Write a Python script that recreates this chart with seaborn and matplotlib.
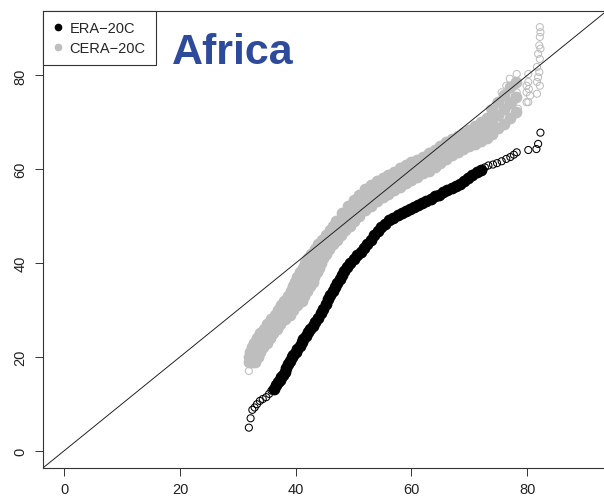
import numpy as np
import pandas as pd
import matplotlib.pyplot as plt
import seaborn as sns
from matplotlib.lines import Line2D

# quantiles (ERA-20C = black, CERA-20C = grey)
era_x = [36.2,36.6,37.0,37.3,37.5,37.8,38.1,38.4,38.7,39.0,39.3,39.6,40.0,40.3,40.7,41.0,41.3,41.7,42.1,42.5,
         43.0,43.4,43.9,44.3,44.7,45.2,45.6,46.0,46.4,46.8,47.2,47.6,48.0,48.4,48.9,49.4,50.0,50.6,51.2,51.8,
         52.4,53.0,53.6,54.2,54.8,55.5,56.2,56.9,57.6,58.3,59.0,59.7,60.4,61.1,61.8,62.6,63.3,64.0,64.8,65.5,
         66.2,67.0,67.7,68.4,69.1,69.8,70.5,71.3,72.0]
era_y = [13.2,13.9,14.6,15.1,15.6,16.2,16.8,17.6,18.5,19.2,19.9,20.4,21.0,21.7,22.4,23.1,23.8,24.5,25.2,25.9,
         26.6,27.4,28.3,29.3,30.2,31.3,32.3,33.2,34.0,34.8,35.7,36.6,37.5,38.3,39.2,40.1,40.9,41.7,42.4,43.1,
         44.0,45.0,46.0,46.8,47.6,48.4,49.1,49.7,50.2,50.6,51.1,51.5,51.9,52.4,52.8,53.3,53.7,54.2,54.6,55.1,
         55.5,56.0,56.5,56.9,57.5,58.1,58.7,59.4,59.9]

# single circles at both ends of ERA-20C
era_tail_x = [31.9,32.2,32.5,32.9,33.3,33.8,34.3,34.9,35.4,35.8,
              72.7,73.3,74.1,74.8,75.6,76.4,77.1,77.7,78.2,80.2,81.6,81.9,82.3]
era_tail_y = [4.9,6.9,8.7,9.2,9.9,10.6,11.0,11.4,12.1,12.8,
              60.4,60.8,61.0,61.3,61.7,62.2,62.6,63.1,63.6,64.1,64.3,65.4,67.8]

# CERA-20C is a wide band: three rows across it (upper edge, middle, lower edge)
cera_steep_y = [19,20,21,22,23,24,25,26,27,28,29,30,31,32,33,34,35,36,37,38,39,40,41,42,43,44,45,46,47,48]
cera_top_steep_x = [31.9,32.0,32.1,32.4,32.8,33.3,33.9,34.5,35.1,35.8,36.4,37.0,37.5,38.0,38.6,39.1,39.5,
                    39.9,40.3,40.8,41.2,41.6,42.1,42.7,43.3,43.9,44.6,45.2,45.9,46.5]
cera_mid_steep_x = [32.4,32.7,33.0,33.4,33.9,34.4,35.0,35.6,36.2,37.0,37.7,38.3,38.9,39.5,40.1,40.6,41.0,
                    41.4,41.8,42.2,42.6,43.0,43.5,44.0,44.6,45.2,45.9,46.5,47.2,48.0]
cera_bot_steep_x = [32.9,33.4,33.8,34.4,35.0,35.5,36.1,36.7,37.3,38.1,39.0,39.6,40.3,41.0,41.5,42.0,42.5,
                    42.9,43.2,43.6,44.0,44.4,44.8,45.2,45.8,46.4,47.1,47.8,48.5,49.4]

cera_flat_x = [47,48,49,50,51,52,53,54,55,56,57,58,59,60,61,62,63,64,65,66,67,68,69,70,71,72,73,74,75,76,77,78]
cera_top_flat_y = [49.0,50.7,52.1,53.4,54.5,55.7,56.6,57.5,58.2,58.8,59.5,60.2,60.8,61.5,62.0,62.7,63.4,64.2,
                   65.0,65.7,66.5,67.1,67.8,68.4,69.2,70.1,71.0,72.7,74.4,75.9,77.5,78.7]
cera_mid_flat_y = [47.0,48.7,50.0,51.2,52.3,53.5,54.4,55.4,56.1,56.8,57.5,58.2,58.9,59.7,60.2,60.9,61.6,62.4,
                   63.2,64.0,64.8,65.4,66.1,66.7,67.3,68.1,68.8,70.2,71.6,72.8,74.2,75.4]
cera_bot_flat_y = [45.0,46.7,47.9,49.0,50.1,51.2,52.1,53.2,54.0,54.8,55.5,56.2,57.0,57.8,58.4,59.1,59.7,60.5,
                   61.3,62.2,63.0,63.6,64.3,64.9,65.4,66.0,66.6,67.6,68.7,69.6,70.9,72.1]

cera_tail_x = [31.9,31.8,32.9,33.2,
               73.6,74.7,75.9,75.6,76.4,76.7,77.0,77.0,77.6,77.9,78.2,78.2,78.4,
               79.9,79.9,79.9,80.2,80.2,80.3,80.5,80.2,81.7,82.2,81.7,81.9,82.1,81.7,82.2,81.9,82.3,82.1,82.2,82.3,82.2]
cera_tail_y = [17.0,18.6,19.6,20.8,
               72.9,74.3,75.0,76.4,77.8,75.7,79.3,73.6,74.3,77.8,76.4,80.3,72.9,
               77.8,76.4,74.3,80.3,78.6,77.1,75.7,74.3,76.1,77.8,78.6,79.6,80.7,81.8,83.5,84.6,85.7,86.4,88.2,89.2,90.3]

series = ["ERA\u221220C", "CERA\u221220C"]
colors = ["black", "#BEBEBE"]
ticks = [0, 20, 40, 60, 80]

sns.set_style("ticks")
plt.rcParams['font.family'] = ['Liberation Sans', 'DejaVu Sans']

fig = plt.figure(figsize=(6.04, 5.02), dpi=100)
ax = fig.add_axes([0.072, 0.0667, 0.931, 0.910])

grey = colors[1]
body = dict(s=72, linewidth=0, marker='o', legend=False, ax=ax)
ring = dict(s=26, linewidth=0.75, marker='o', facecolor='none', legend=False, ax=ax)

for xs, ys in [(cera_top_steep_x, cera_steep_y), (cera_mid_steep_x, cera_steep_y), (cera_bot_steep_x, cera_steep_y),
               (cera_flat_x, cera_top_flat_y), (cera_flat_x, cera_mid_flat_y), (cera_flat_x, cera_bot_flat_y)]:
    sns.scatterplot(x=xs, y=ys, color=grey, **body)
sns.scatterplot(x=cera_tail_x, y=cera_tail_y, edgecolor=grey, **ring)

sns.scatterplot(x=era_x, y=era_y, color=colors[0], **body)
sns.scatterplot(x=era_tail_x, y=era_tail_y, edgecolor=colors[0], **ring)

ax.axline((0, 0), slope=1, color='#222222', linewidth=0.7)

ax.set_xlim(-3.6, 93.6)
ax.set_ylim(-3.6, 93.8)
ax.set_xticks(ticks)
ax.set_yticks(ticks)
ax.tick_params(bottom=True, left=True, direction='out', length=5.5, width=0.7, color='#333333',
               labelsize=10.5, labelcolor='#222222')
ax.tick_params(axis='x', pad=5)
ax.tick_params(axis='y', pad=6)
plt.setp(ax.get_yticklabels(), rotation=90, va='center')
for sp in ax.spines.values():
    sp.set_visible(True)
    sp.set_color('#333333')
    sp.set_linewidth(0.8)
ax.set_xlabel("")
ax.set_ylabel("")

handles = [Line2D([], [], marker='o', linestyle='none', color=c, markersize=4.5) for c in colors]
leg = ax.legend(handles, series, loc='upper left', borderaxespad=0, fancybox=False, framealpha=1,
                fontsize=10.5, handlelength=0.6, handletextpad=0.5, borderpad=0.7, labelspacing=0.4)
leg.get_frame().set_edgecolor('#333333')
leg.get_frame().set_linewidth(0.8)

ax.text(0.229, 0.886, "Africa", transform=ax.transAxes, fontsize=31, fontweight='bold',
        color='#2D4A9B', va='baseline', ha='left')

fig.savefig("out.png", dpi=100)
